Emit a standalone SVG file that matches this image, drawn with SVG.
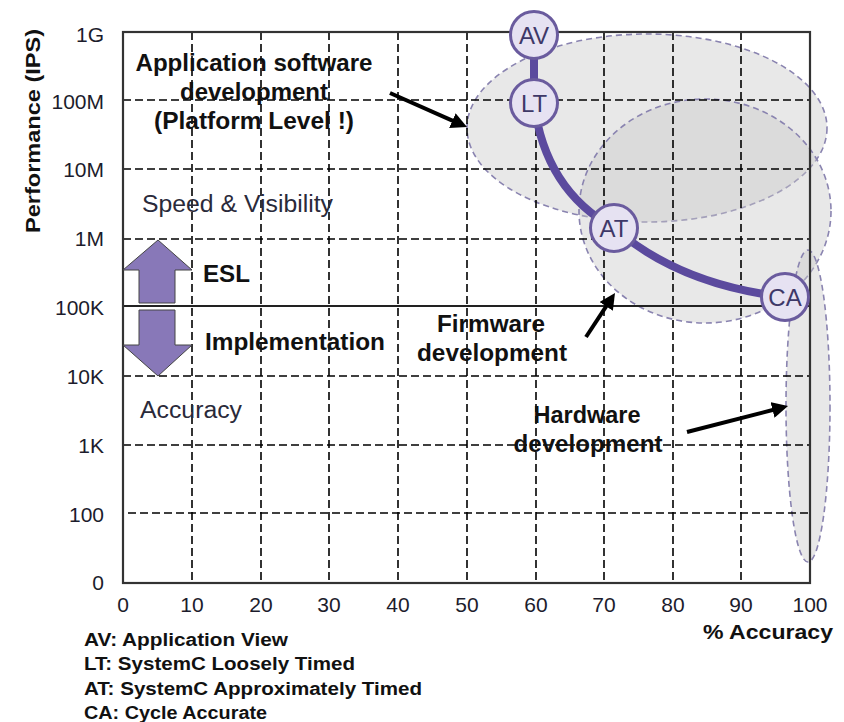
<svg xmlns="http://www.w3.org/2000/svg" width="844" height="722" viewBox="0 0 844 722">
<defs>
<style>
.grid{stroke:#000;stroke-width:1.6;stroke-dasharray:8 4;fill:none}
.ell{fill:#c8c8c8;fill-opacity:0.42;stroke:#8a84b0;stroke-width:1.6;stroke-dasharray:6 4}
.tick{font-family:"Liberation Sans",Arial,sans-serif;font-size:21px;fill:#1c1c2c}
.lbl{font-family:"Liberation Sans",Arial,sans-serif;font-weight:bold;fill:#111}
.plain{font-family:"Liberation Sans",Arial,sans-serif;font-size:23px;fill:#2a2a3a}
.node circle{fill:#e6e2f2;stroke:#6a5b9e;stroke-width:3}
.node text{font-family:"Liberation Sans",Arial,sans-serif;font-size:24px;fill:#3e3868;text-anchor:middle}
.arr{stroke:#000;stroke-width:4;fill:none;marker-end:url(#ah)}
.big{fill:#8878b8;stroke:#444;stroke-width:1}
.leg{font-family:"Liberation Sans",Arial,sans-serif;font-weight:bold;font-size:17.5px;fill:#111}
</style>
<marker id="ah" viewBox="0 0 10 10" markerWidth="4" markerHeight="4" refX="5" refY="5" orient="auto">
<path d="M0,0 L10,5 L0,10 Z" fill="#000"/>
</marker>
</defs>
<rect width="844" height="722" fill="#fff"/>
<rect x="123" y="32" width="687" height="551" fill="#fff"/>

<g id="regions">
<ellipse class="ell" cx="647" cy="128" rx="180" ry="94"/>
<ellipse class="ell" cx="705" cy="211" rx="126" ry="112"/>
<ellipse class="ell" cx="808" cy="406" rx="22" ry="156"/>
</g>

<g id="grid">
<line class="grid" x1="123" y1="100" x2="810" y2="100"/>
<line class="grid" x1="123" y1="169" x2="810" y2="169"/>
<line class="grid" x1="123" y1="239" x2="810" y2="239"/>
<line class="grid" x1="123" y1="376" x2="810" y2="376"/>
<line class="grid" x1="123" y1="445" x2="810" y2="445"/>
<line class="grid" x1="128" y1="513" x2="810" y2="513"/>
<line class="grid" x1="192" y1="32" x2="192" y2="583"/>
<line class="grid" x1="261" y1="32" x2="261" y2="583"/>
<line class="grid" x1="329" y1="32" x2="329" y2="583"/>
<line class="grid" x1="398" y1="32" x2="398" y2="583"/>
<line class="grid" x1="467" y1="32" x2="467" y2="583"/>
<line class="grid" x1="536" y1="32" x2="536" y2="583"/>
<line class="grid" x1="604" y1="32" x2="604" y2="583"/>
<line class="grid" x1="673" y1="32" x2="673" y2="583"/>
<line class="grid" x1="741" y1="32" x2="741" y2="583"/>
<line x1="123" y1="306" x2="810" y2="306" stroke="#222" stroke-width="2"/>
<rect x="123" y="32" width="687" height="551" fill="none" stroke="#333" stroke-width="2.2"/>
</g>

<g id="axis-labels">
<g class="tick" text-anchor="end">
<text x="104" y="42">1G</text>
<text x="104" y="109">100M</text>
<text x="104" y="177">10M</text>
<text x="104" y="246">1M</text>
<text x="104" y="315">100K</text>
<text x="104" y="384">10K</text>
<text x="104" y="453">1K</text>
<text x="104" y="522">100</text>
<text x="104" y="590">0</text>
</g>
<g class="tick" text-anchor="middle">
<text x="123" y="612">0</text>
<text x="192" y="612">10</text>
<text x="261" y="612">20</text>
<text x="329" y="612">30</text>
<text x="398" y="612">40</text>
<text x="467" y="612">50</text>
<text x="536" y="612">60</text>
<text x="604" y="612">70</text>
<text x="673" y="612">80</text>
<text x="741" y="612">90</text>
<text x="810" y="612">100</text>
</g>
<text class="lbl" font-size="21" x="0" y="0" text-anchor="middle" transform="translate(40,131) rotate(-90)" textLength="204" lengthAdjust="spacingAndGlyphs">Performance (IPS)</text>
<text class="lbl" font-size="21" x="703" y="639" textLength="130" lengthAdjust="spacingAndGlyphs">% Accuracy</text>
</g>

<g id="esl-arrows">
<polygon class="big" points="158,240 192,270 175,270 175,303 139,303 139,270 123,270"/>
<polygon class="big" points="139,310 175,310 175,345 192,345 158,376 123,345 139,345"/>
<text class="lbl" font-size="23" x="203" y="282" textLength="47" lengthAdjust="spacingAndGlyphs">ESL</text>
<text class="lbl" font-size="23" x="205" y="350" textLength="180" lengthAdjust="spacingAndGlyphs">Implementation</text>
</g>

<g id="texts">
<text class="plain" x="142" y="212" textLength="191" lengthAdjust="spacingAndGlyphs">Speed &amp; Visibility</text>
<text class="plain" x="140" y="418" textLength="102" lengthAdjust="spacingAndGlyphs">Accuracy</text>
<g class="lbl" font-size="23" text-anchor="middle">
<text x="254" y="71" textLength="237" lengthAdjust="spacingAndGlyphs">Application software</text>
<text x="254" y="100" textLength="148" lengthAdjust="spacingAndGlyphs">development</text>
<text x="254" y="129" textLength="200" lengthAdjust="spacingAndGlyphs">(Platform Level !)</text>
<text x="491" y="332" textLength="108" lengthAdjust="spacingAndGlyphs">Firmware</text>
<text x="492" y="361" textLength="150" lengthAdjust="spacingAndGlyphs">development</text>
<text x="587" y="423" textLength="107" lengthAdjust="spacingAndGlyphs">Hardware</text>
<text x="588" y="452" textLength="149" lengthAdjust="spacingAndGlyphs">development</text>
</g>
</g>

<g id="connectors">
<path d="M534,34 L534,103 Q545,190 614,228 Q680,285 785,297" fill="none" stroke="#5b4a9e" stroke-width="8" stroke-linejoin="round"/>
<path class="arr" d="M390,93 L459.7,123.8"/>
<path class="arr" d="M586,337 L610.6,299.7"/>
<path class="arr" d="M687,432 L780.3,408"/>
</g>

<g id="node-AV" class="node"><circle cx="534" cy="35" r="23.5"/><text x="534" y="43.5">AV</text></g>
<g id="node-LT" class="node"><circle cx="534" cy="103" r="23.5"/><text x="534" y="111.5">LT</text></g>
<g id="node-AT" class="node"><circle cx="614" cy="228" r="23.5"/><text x="614" y="236.5">AT</text></g>
<g id="node-CA" class="node"><circle cx="785" cy="297" r="23.5"/><text x="785" y="305.5">CA</text></g>

<g id="legend" class="leg">
<text x="84" y="646" textLength="204" lengthAdjust="spacingAndGlyphs">AV: Application View</text>
<text x="84" y="670" textLength="271" lengthAdjust="spacingAndGlyphs">LT: SystemC Loosely Timed</text>
<text x="84" y="695" textLength="338" lengthAdjust="spacingAndGlyphs">AT: SystemC Approximately Timed</text>
<text x="84" y="719" textLength="183" lengthAdjust="spacingAndGlyphs">CA: Cycle Accurate</text>
</g>
</svg>
